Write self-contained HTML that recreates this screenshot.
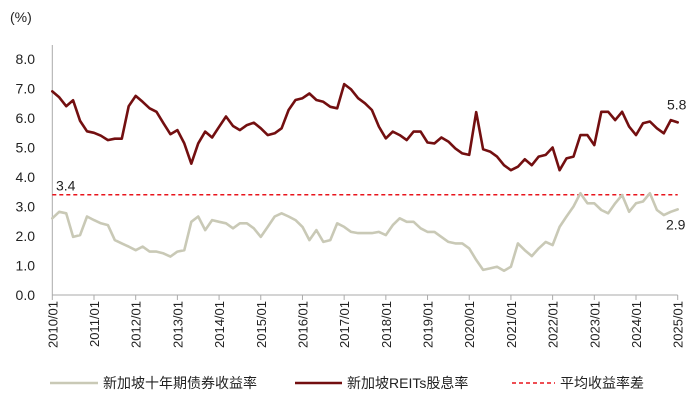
<!DOCTYPE html>
<html><head><meta charset="utf-8">
<style>
html,body{margin:0;padding:0;background:#fff;}
svg text{font-family:"Liberation Sans","Noto Sans CJK SC",sans-serif;fill:#222;}
</style></head>
<body>
<svg width="700" height="411" viewBox="0 0 700 411" xmlns="http://www.w3.org/2000/svg">
<g id="plot"></g>
</svg>
<script>
const yearLabels=["2010/01","2011/01","2012/01","2013/01","2014/01","2015/01","2016/01","2017/01","2018/01","2019/01","2020/01","2021/01","2022/01","2023/01","2024/01","2025/01"];
const yTicks=[0,1,2,3,4,5,6,7,8];
const reitYield=[6.9,6.7,6.4,6.6,5.9,5.55,
5.5,5.4,5.25,5.3,5.3,6.4,
6.75,6.55,6.33,6.21,5.82,5.45,
5.59,5.14,4.45,5.14,5.54,5.34,
5.7,6.05,5.73,5.59,5.76,5.84,
5.65,5.42,5.48,5.65,6.27,6.61,
6.67,6.83,6.61,6.55,6.38,6.33,
7.15,6.97,6.67,6.5,6.27,5.71,
5.31,5.54,5.42,5.25,5.54,5.54,
5.17,5.14,5.34,5.2,4.97,4.8,
4.75,6.2,4.94,4.86,4.69,4.4,
4.23,4.35,4.6,4.4,4.69,4.75,
5.0,4.23,4.63,4.69,5.42,5.42,
5.08,6.21,6.21,5.93,6.21,5.71,
5.42,5.82,5.88,5.65,5.48,5.93,
5.85];
const bondYield=[2.6,2.82,2.77,1.97,2.03,2.66,
2.54,2.43,2.37,1.86,1.75,1.64,
1.52,1.64,1.47,1.47,1.41,1.3,
1.47,1.52,2.48,2.66,2.2,2.54,
2.48,2.43,2.26,2.43,2.43,2.26,
1.97,2.31,2.66,2.77,2.66,2.54,
2.31,1.86,2.2,1.8,1.86,2.43,
2.31,2.14,2.1,2.1,2.1,2.14,
2.03,2.37,2.6,2.48,2.48,2.26,
2.14,2.14,1.97,1.8,1.75,1.75,
1.58,1.19,0.85,0.9,0.96,0.82,
0.96,1.75,1.52,1.32,1.58,1.8,
1.69,2.31,2.66,3.0,3.45,3.11,
3.11,2.88,2.77,3.11,3.39,2.82,
3.11,3.17,3.45,2.88,2.71,2.82,
2.9];
const avgSpread=[3.4];
const reitLast=["5.8"];
const bondLast=["2.9"];

const NS="http://www.w3.org/2000/svg";
const g=document.getElementById('plot');
const X0=52.3,X1=677.7,Y0=295,PU=29.5;
const xYear=t=>X0+(X1-X0)*t/15;
const xIdx=i=>xYear(i/6);
const yV=v=>Y0-v*PU;
function mk(tag,attrs,parent){const e=document.createElementNS(NS,tag);for(const k in attrs)e.setAttribute(k,attrs[k]);(parent||g).appendChild(e);return e;}

// axes
let e=mk('line',{x1:X0,y1:45,x2:X0,y2:Y0,stroke:'#aaa','stroke-width':1});


e=mk('line',{x1:X0,y1:Y0,x2:X1,y2:Y0,stroke:'#aaa','stroke-width':1});



yTicks.forEach(v=>{
  const t=mk('text',{x:35,y:yV(v)+5,'text-anchor':'end','font-size':14});
  t.textContent=v.toFixed(1);
  
  
});
e=mk('text',{x:10,y:22,'font-size':14});e.textContent='(%)';



yearLabels.forEach((lab,i)=>{
  const x=xYear(i);
  const tk=mk('line',{x1:x,y1:Y0,x2:x,y2:Y0+5,stroke:'#aaa','stroke-width':1});
  
  
  const t=mk('text',{x:0,y:0,'font-size':13,'text-anchor':'end',transform:`translate(${x+5},${Y0+6}) rotate(-90)`});
  t.textContent=lab;
  
  
});

// average line
e=mk('line',{x1:X0,y1:yV(avgSpread[0]),x2:X1,y2:yV(avgSpread[0]),stroke:'#e8141c','stroke-width':1.5,'stroke-dasharray':'4,3'});


e=mk('text',{x:56,y:yV(avgSpread[0])-4,'font-size':14});e.textContent=avgSpread[0].toFixed(1);



function series(arr,color,w,name){
  const pts=arr.map((v,i)=>xIdx(i).toFixed(1)+','+yV(v).toFixed(1)).join(' ');
  const p=mk('polyline',{points:pts,fill:'none',stroke:color,'stroke-width':w,'stroke-linejoin':'round','stroke-linecap':'round'});
  
  
}
series(bondYield,'#c9c9b6',2.6,'bond-yield-line');
series(reitYield,'#730f10',2.6,'reit-yield-line');

e=mk('text',{x:667,y:yV(reitYield[reitYield.length-1])-13,'font-size':14});e.textContent=reitLast[0];


e=mk('text',{x:666,y:yV(bondYield[bondYield.length-1])+20,'font-size':14});e.textContent=bondLast[0];



// legend
const LY=383;
e=mk('line',{x1:50,y1:LY,x2:98,y2:LY,stroke:'#c9c9b6','stroke-width':2.6});


e=mk('text',{x:103,y:LY+5,'font-size':14});e.textContent='新加坡十年期债券收益率';


e=mk('line',{x1:295,y1:LY,x2:342,y2:LY,stroke:'#730f10','stroke-width':2.6});


e=mk('text',{x:347,y:LY+5,'font-size':14});e.textContent='新加坡REITs股息率';


e=mk('line',{x1:512,y1:LY,x2:555,y2:LY,stroke:'#e8141c','stroke-width':1.5,'stroke-dasharray':'4,3'});


e=mk('text',{x:560,y:LY+5,'font-size':14});e.textContent='平均收益率差';


</script>
</body></html>
